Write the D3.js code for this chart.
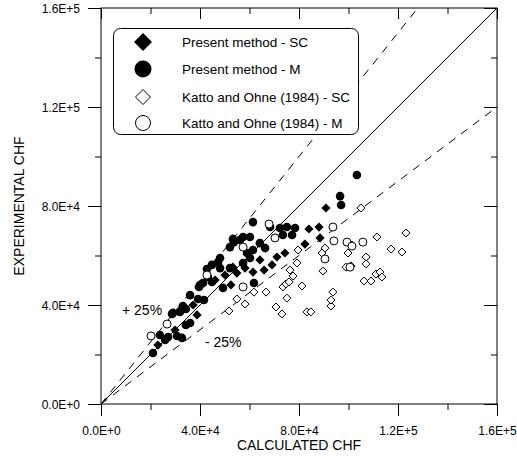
<!DOCTYPE html>
<html>
<head>
<meta charset="utf-8">
<script src="https://cdn.jsdelivr.net/npm/d3@7"></script>
<style>
  html, body { margin: 0; padding: 0; background: #fff; }
  svg text { font-family: "Liberation Sans", Arial, sans-serif; fill: #000; }
</style>
</head>
<body>
<svg id="chart" width="517" height="457"></svg>
<script>
// ---------- data (W/m2) ----------
const tickValues = [0, 40000, 80000, 120000, 160000];
const tickLabels = ["0.0E+0", "4.0E+4", "8.0E+4", "1.2E+5", "1.6E+5"];
const minorTickValues = [20000, 60000, 100000, 140000];

const seriesNames = ["Present method - SC", "Present method - M", "Katto and Ohne (1984) - SC", "Katto and Ohne (1984) - M"];

// Present method - SC (filled diamonds): [calculated, experimental]
const presentSC = [
  [38800, 36000], [52500, 48100], [61400, 53300], [65900, 54100], [64200, 58200],
  [69100, 56200], [71100, 59400], [74300, 61000], [82400, 64600], [84000, 70700],
  [88100, 71500], [88500, 67100], [90900, 79200], [53300, 55300], [54900, 52900],
  [50100, 52100], [46100, 50100], [37200, 40000], [29900, 29900], [23000, 23800],
  [58200, 54900]
];

// Present method - M (filled circles)
const presentM = [
  [21000, 20600], [23800, 27900], [25900, 25900], [27100, 27100], [30700, 27500],
  [32700, 26700], [28700, 36400], [31900, 37200], [34300, 38400], [34300, 31900],
  [36000, 32700], [33100, 39600], [36000, 44000], [39200, 42400], [39600, 47300],
  [41200, 48900], [43200, 51300], [42800, 54500], [44800, 56200], [47300, 57400],
  [48100, 54900], [52100, 54900], [48100, 59000], [52100, 63400], [53700, 65400],
  [56200, 66300], [60200, 67500], [59000, 61000], [61400, 62200], [64200, 65000],
  [57400, 57000], [60200, 59000], [61400, 73500], [68300, 71500], [72300, 71100],
  [75100, 71500], [78400, 71100], [73500, 68300], [77200, 68300], [96600, 84000],
  [97000, 80400], [103400, 92500], [61800, 48900], [40000, 48100], [44800, 49300],
  [49300, 46900], [41600, 42000], [29100, 36800], [66300, 63000], [57400, 67500],
  [53300, 66700]
];

// Katto and Ohne (1984) - SC (open diamonds)
const kattoSC = [
  [51700, 37600], [54900, 42400], [58200, 40400], [61800, 45200], [66700, 45200],
  [70700, 39200], [73100, 36400], [75100, 42800], [73500, 47300], [74700, 48500],
  [76000, 49300], [81200, 47700], [83200, 37200], [84800, 37200], [92900, 39600],
  [92900, 42000], [93700, 45200], [76400, 54100], [77600, 51700], [79200, 57000],
  [79600, 62200], [89300, 61000], [90500, 63000], [89700, 53700], [99000, 55300],
  [101000, 55800], [99800, 61000], [101400, 64200], [107100, 59400], [107100, 56600],
  [106300, 49700], [109100, 49700], [111100, 52500], [112700, 53300], [113500, 51300],
  [111500, 67500], [117200, 62600], [121600, 61400], [123200, 69100], [105000, 79200]
];

// Katto and Ohne (1984) - M (open circles)
const kattoM = [
  [20200, 27500], [26700, 32300], [42800, 52100], [57400, 63400], [57400, 47300],
  [67900, 72700], [70300, 67100], [90500, 58600], [93700, 71500], [94100, 65900],
  [99400, 65400], [101400, 63800], [105800, 65400], [100600, 55300]
];

const pctLines = [
  { factor: 1.0, dash: null },
  { factor: 1.25, dash: "8,7" },
  { factor: 0.75, dash: "8,7" }
];
const pctLabels = ["+ 25%", "- 25%"];

// ---------- layout ----------
const svg = d3.select("#chart");
const L = 101, R = 497, T = 8, B = 404;
const x = d3.scaleLinear().domain([0, 160000]).range([L, R]);
const y = d3.scaleLinear().domain([0, 160000]).range([B, T]);

// diagonal lines
const gLines = svg.append("g");
pctLines.forEach(p => {
  const xEnd = Math.min(160000, 160000 / p.factor);
  gLines.append("line")
    .attr("x1", x(0)).attr("y1", y(0))
    .attr("x2", x(xEnd)).attr("y2", y(xEnd * p.factor))
    .attr("stroke", "#000").attr("stroke-width", 1)
    .attr("stroke-dasharray", p.dash);
});

// frame
svg.append("rect").attr("x", L).attr("y", T).attr("width", R - L).attr("height", B - T)
  .attr("fill", "none").attr("stroke", "#000").attr("stroke-width", 1);

// axes
const fmt = (d) => tickLabels[tickValues.indexOf(d)];
const axB = svg.append("g").attr("transform", `translate(0,${B})`)
  .call(d3.axisBottom(x).tickValues(tickValues).tickSize(12).tickFormat(fmt));
svg.append("g").attr("transform", `translate(0,${B})`)
  .call(d3.axisBottom(x).tickValues(minorTickValues).tickSize(6).tickFormat(""));
const axL = svg.append("g").attr("transform", `translate(${L},0)`)
  .call(d3.axisLeft(y).tickValues(tickValues).tickSize(13).tickFormat(fmt));
svg.append("g").attr("transform", `translate(${L},0)`)
  .call(d3.axisLeft(y).tickValues(minorTickValues).tickSize(6).tickFormat(""));
svg.append("g").attr("transform", `translate(0,${T})`)
  .call(d3.axisBottom(x).tickValues(tickValues).tickSize(11).tickFormat(""));
svg.append("g").attr("transform", `translate(0,${T})`)
  .call(d3.axisBottom(x).tickValues(minorTickValues).tickSize(6).tickFormat(""));
svg.append("g").attr("transform", `translate(${R},0)`)
  .call(d3.axisRight(y).tickValues(tickValues).tickSize(-13).tickFormat(""));
svg.append("g").attr("transform", `translate(${R},0)`)
  .call(d3.axisRight(y).tickValues(minorTickValues).tickSize(-6).tickFormat(""));
svg.selectAll(".domain").remove();
svg.selectAll(".tick line").attr("stroke", "#000");
axB.selectAll("text").attr("font-size", 12).attr("dy", 0).attr("y", 31)
  .style("font-family", "Liberation Sans, Arial, sans-serif");
axL.selectAll("text").attr("font-size", 12).attr("x", -21).attr("dy", "0.35em")
  .style("font-family", "Liberation Sans, Arial, sans-serif");

// axis titles
svg.append("text").attr("x", (L + R) / 2).attr("y", 450).attr("text-anchor", "middle")
  .attr("font-size", 14).text("CALCULATED CHF");
svg.append("text").attr("transform", `translate(24,${(T + B) / 2}) rotate(-90)`)
  .attr("text-anchor", "middle").attr("font-size", 14).text("EXPERIMENTAL CHF");

// percent labels
svg.append("text").attr("x", 122).attr("y", 315).attr("font-size", 14).text(pctLabels[0]);
svg.append("text").attr("x", 205).attr("y", 347).attr("font-size", 14).text(pctLabels[1]);

// symbols
const diamond = (s) => `M0,${-s}L${s},0L0,${s}L${-s},0Z`;
const gPts = svg.append("g");
gPts.selectAll(".psc").data(presentSC).enter().append("path")
  .attr("d", diamond(4.6)).attr("transform", d => `translate(${x(d[0])},${y(d[1])})`)
  .attr("fill", "#000");
gPts.selectAll(".pm").data(presentM).enter().append("circle")
  .attr("cx", d => x(d[0])).attr("cy", d => y(d[1])).attr("r", 4.3).attr("fill", "#000");
gPts.selectAll(".ksc").data(kattoSC).enter().append("path")
  .attr("d", diamond(4)).attr("transform", d => `translate(${x(d[0])},${y(d[1])})`)
  .attr("fill", "#fff").attr("stroke", "#000").attr("stroke-width", 1);
gPts.selectAll(".km").data(kattoM).enter().append("circle")
  .attr("cx", d => x(d[0])).attr("cy", d => y(d[1])).attr("r", 4)
  .attr("fill", "#fff").attr("stroke", "#000").attr("stroke-width", 1);

// legend
const lg = svg.append("g");
lg.append("rect").attr("x", 113.5).attr("y", 28.5).attr("width", 245).attr("height", 106)
  .attr("rx", 7).attr("fill", "#fff").attr("stroke", "#000").attr("stroke-width", 1);
const rowsY = [42, 69, 97, 123];
const mx = 143;
lg.append("path").attr("d", diamond(9)).attr("transform", `translate(${mx},${rowsY[0]})`).attr("fill", "#000");
lg.append("circle").attr("cx", mx).attr("cy", rowsY[1]).attr("r", 8.5).attr("fill", "#000");
lg.append("path").attr("d", diamond(7.5)).attr("transform", `translate(${mx},${rowsY[2]})`)
  .attr("fill", "#fff").attr("stroke", "#000");
lg.append("circle").attr("cx", mx).attr("cy", rowsY[3]).attr("r", 7.5)
  .attr("fill", "#fff").attr("stroke", "#000");
seriesNames.forEach((n, i) => {
  lg.append("text").attr("x", 182).attr("y", rowsY[i] + 5).attr("font-size", 13.5).text(n);
});
</script>
</body>
</html>
